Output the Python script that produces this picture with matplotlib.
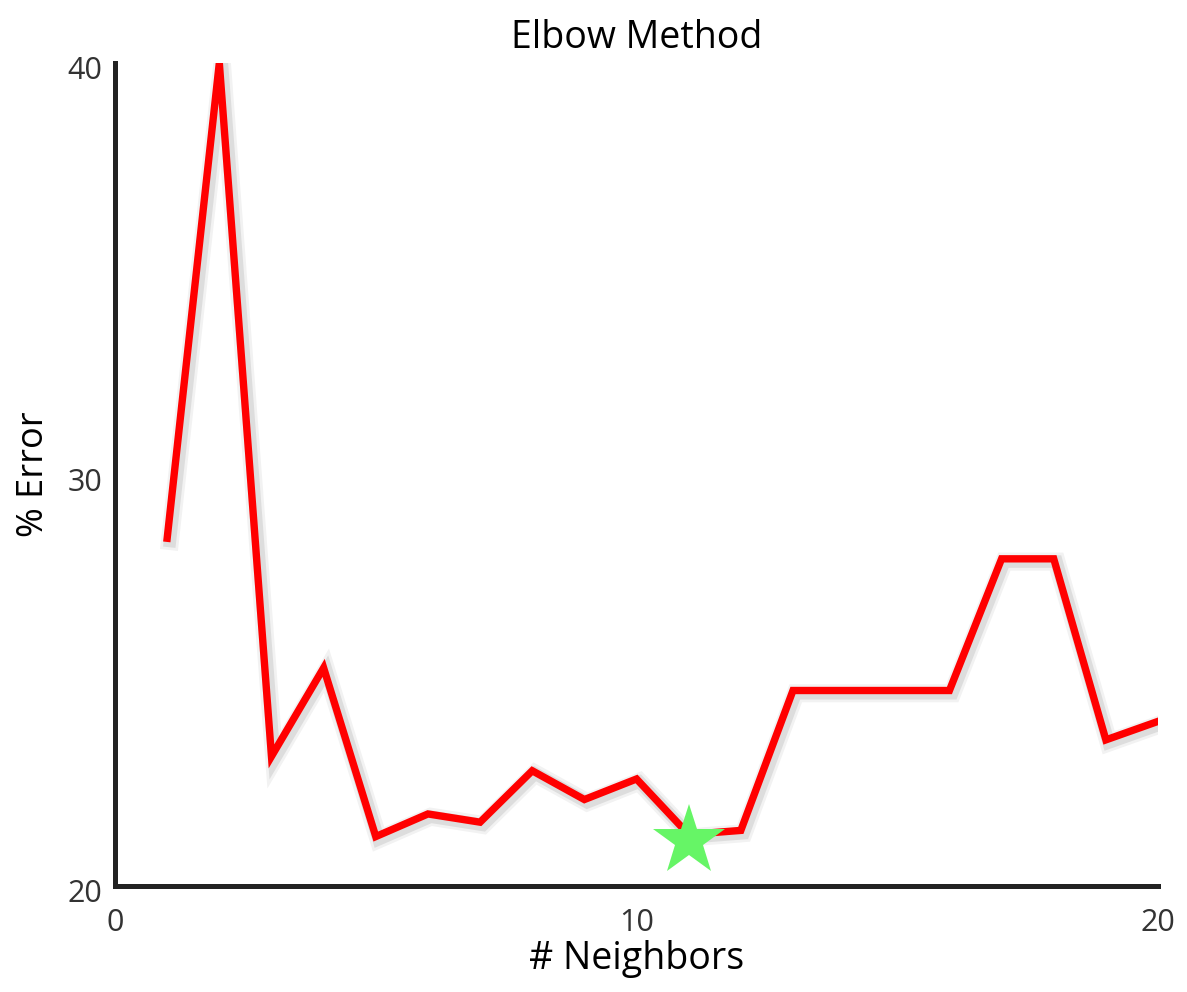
import matplotlib
matplotlib.use("Agg")
import matplotlib.pyplot as plt
import matplotlib.patheffects as pe
from matplotlib.transforms import ScaledTranslation

plt.rcParams['font.family'] = ['Open Sans', 'DejaVu Sans']

# 数据: 邻居数 - 错误率
neighbors = [1, 2, 3, 4, 5, 6, 7, 8, 9, 10, 11, 12, 13, 14, 15, 16, 17, 18, 19, 20]
error = [28.45, 40.0, 23.15, 25.3, 21.2, 21.75, 21.55, 22.8, 22.1, 22.6, 21.25, 21.35,
         24.75, 24.75, 24.75, 24.75, 27.95, 27.95, 23.55, 24.0]
best_k = [11]
best_err = [21.1]

fig = plt.figure(figsize=(11.87, 9.92), dpi=100)
ax = fig.add_axes([0.0969, 0.1069, 0.8787, 0.8296])

# 红线带一点灰色阴影
shadow = [pe.SimpleLineShadow(offset=(2, -2), shadow_color='gray', alpha=0.10, linewidth=13),
          pe.SimpleLineShadow(offset=(2, -2), shadow_color='gray', alpha=0.18, linewidth=9),
          pe.Normal()]
ax.plot(neighbors, error, color='#ff0000', lw=5.3, solid_joinstyle='miter',
        path_effects=shadow, zorder=2)
ax.plot(best_k, best_err, marker='*', markersize=54, color='#66f566',
        markeredgewidth=0, linestyle='none', zorder=3)

ax.set_xlim(0, 20)
ax.set_ylim(20, 40)
ax.set_xticks([0, 10, 20])
ax.set_yticks([20, 30, 40])
ax.tick_params(length=0, labelsize=22, labelcolor='#333333')
ax.tick_params(axis='x', pad=16)
ax.tick_params(axis='y', pad=9)
off = ScaledTranslation(0, -5 / 100, fig.dpi_scale_trans)
for lab in ax.get_yticklabels():
    lab.set_transform(lab.get_transform() + off)

for s in ['top', 'right']:
    ax.spines[s].set_visible(False)
for s in ['left', 'bottom']:
    ax.spines[s].set_linewidth(3.6)
    ax.spines[s].set_color('#222222')
    ax.spines[s].set_capstyle('projecting')

ax.set_title("Elbow Method", fontsize=27, color='#000000', pad=11)
ax.set_xlabel("# Neighbors", fontsize=27, color='#000000', labelpad=1)
ax.set_ylabel("% Error", fontsize=26, color='#000000', labelpad=11)

fig.savefig("out.png", dpi=100)
